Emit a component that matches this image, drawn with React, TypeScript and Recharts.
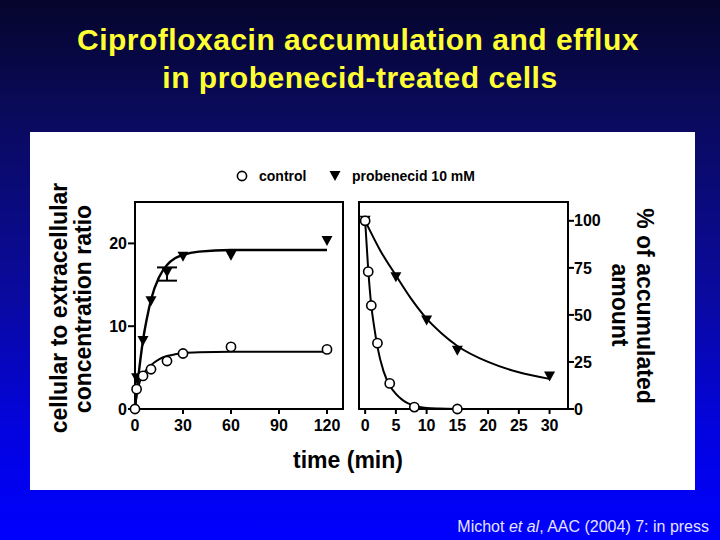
import React from 'react';
import { ComposedChart, Line, Scatter, XAxis, YAxis, ReferenceArea, ErrorBar } from 'recharts';

// --- accumulation panel (left), time in min
const accTimeCtrl = [0, 1, 5, 10, 20, 30, 60, 120];
const accCtrl = [0, 2.4, 4.0, 4.8, 5.8, 6.7, 7.5, 7.2];
const accTimeProb = [1, 5, 10, 20, 30, 60, 120];
const accProb = [3.7, 8.2, 13.0, 16.5, 18.4, 18.5, 20.3];
const accProbSem = [0, 0, 0, 1.0, 0, 0, 0];
// fitted curves
const accFitTime = [0, 1, 2, 3, 5, 7.5, 10, 15, 20, 25, 30, 40, 60, 90, 120];
const accFitCtrl = [0, 1.6, 2.6, 3.3, 4.2, 4.8, 5.3, 6.0, 6.4, 6.6, 6.75, 6.85, 6.9, 6.9, 6.9];
const accFitProb = [0, 2.0, 3.8, 5.4, 8.3, 11.0, 13.2, 15.9, 17.4, 18.2, 18.6, 19.0, 19.2, 19.2, 19.2];

// --- efflux panel (right), % of accumulated amount
const effTimeCtrl = [0, 0.5, 1, 2, 4, 8, 15];
const effCtrl = [100, 73, 55, 35, 13.6, 1, 0];
const effTimeProb = [0, 5, 10, 15, 30];
const effProb = [100, 70, 47, 31, 17.3];
const effFitTimeCtrl = [0, 0.5, 1, 1.5, 2, 3, 4, 5, 6, 7, 8, 10, 12, 15];
const effFitCtrl = [100, 74, 55, 43, 33, 20, 12.5, 8, 5, 3, 1.8, 0.6, 0.2, 0];
const effFitTimeProb = [0, 2.5, 5, 7.5, 10, 12.5, 15, 20, 25, 30];
const effFitProb = [100, 84, 71, 58.5, 48, 40, 33.5, 25, 19.5, 16];

const accXTicks = [0, 30, 60, 90, 120];
const accYTicks = [0, 10, 20];
const effXTicks = [0, 5, 10, 15, 20, 25, 30];
const effYTicks = [0, 25, 50, 75, 100];
const accXDomain = [0, 130];
const accYDomain = [0, 25];
const effXDomain = [-1, 33];
const effYDomain = [0, 110];

// upper arm hidden under the triangle marker, only the lower one shows
const pts = (t: number[], v: number[], sem?: number[]) =>
  t.map((x, i) => ({ t: x, v: v[i], err: sem && sem[i] ? [sem[i], 0.6] : undefined }));
const errPts = (t: number[], v: number[], sem: number[]) =>
  pts(t, v, sem).filter((d) => d.err);

const FONT = "'Liberation Sans', Arial, sans-serif";
const tickStyle = { fontSize: 16, fontWeight: 700, fill: '#000', fontFamily: FONT };
const axisLine = { stroke: '#000', strokeWidth: 2 };

const OpenCircle = (p: any) => (
  <circle cx={p.cx} cy={p.cy} r={4.6} fill="#fff" stroke="#000" strokeWidth={1.6} />
);
const DownTriangle = (p: any) => (
  <path d={`M${p.cx - 5.5},${p.cy - 5}L${p.cx + 5.5},${p.cy - 5}L${p.cx},${p.cy + 5}Z`} fill="#000" />
);
const NoMark = () => <g />;

function AccumulationChart() {
  return (
    <ComposedChart width={260} height={250} margin={{ top: 12, right: 17, bottom: 1, left: 0 }}>
      <XAxis
        type="number"
        dataKey="t"
        domain={accXDomain}
        ticks={accXTicks}
        tick={tickStyle}
        axisLine={axisLine}
        tickLine={axisLine}
        tickSize={5}
        tickMargin={6}
        height={30}
      />
      <YAxis
        type="number"
        dataKey="v"
        domain={accYDomain}
        ticks={accYTicks}
        tick={tickStyle}
        axisLine={axisLine}
        tickLine={axisLine}
        tickSize={7}
        tickMargin={1}
        width={35}
      />
      <ReferenceArea
        x1={accXDomain[0]}
        x2={accXDomain[1]}
        y1={accYDomain[0]}
        y2={accYDomain[1]}
        fill="none"
        stroke="#000"
        strokeWidth={2}
      />
      <Line data={pts(accFitTime, accFitProb)} dataKey="v" type="monotone" dot={false} stroke="#000" strokeWidth={2.4} isAnimationActive={false} />
      <Line data={pts(accFitTime, accFitCtrl)} dataKey="v" type="monotone" dot={false} stroke="#000" strokeWidth={2} isAnimationActive={false} />
      <Scatter data={errPts(accTimeProb, accProb, accProbSem)} dataKey="v" shape={NoMark} isAnimationActive={false}>
        <ErrorBar dataKey="err" direction="y" width={10} stroke="#000" strokeWidth={2} />
      </Scatter>
      <Scatter data={pts(accTimeProb, accProb)} dataKey="v" shape={DownTriangle} isAnimationActive={false} />
      <Scatter data={pts(accTimeCtrl, accCtrl)} dataKey="v" shape={OpenCircle} isAnimationActive={false} />
    </ComposedChart>
  );
}

function EffluxChart() {
  return (
    <ComposedChart width={260} height={250} margin={{ top: 12, right: 7, bottom: 1, left: 4 }}>
      <XAxis
        type="number"
        dataKey="t"
        domain={effXDomain}
        ticks={effXTicks}
        tick={tickStyle}
        axisLine={axisLine}
        tickLine={axisLine}
        tickSize={5}
        tickMargin={6}
        height={30}
      />
      <YAxis
        type="number"
        dataKey="v"
        orientation="right"
        domain={effYDomain}
        ticks={effYTicks}
        tick={tickStyle}
        axisLine={axisLine}
        tickLine={axisLine}
        tickSize={6}
        tickMargin={0}
        width={40}
      />
      <ReferenceArea
        x1={effXDomain[0]}
        x2={effXDomain[1]}
        y1={effYDomain[0]}
        y2={effYDomain[1]}
        fill="none"
        stroke="#000"
        strokeWidth={2}
      />
      <Line data={pts(effFitTimeProb, effFitProb)} dataKey="v" type="monotone" dot={false} stroke="#000" strokeWidth={2} isAnimationActive={false} />
      <Line data={pts(effFitTimeCtrl, effFitCtrl)} dataKey="v" type="monotone" dot={false} stroke="#000" strokeWidth={2} isAnimationActive={false} />
      <Scatter data={pts(effTimeProb, effProb)} dataKey="v" shape={DownTriangle} isAnimationActive={false} />
      <Scatter data={pts(effTimeCtrl, effCtrl)} dataKey="v" shape={OpenCircle} isAnimationActive={false} />
    </ComposedChart>
  );
}

export default function App() {
  return (
    <div
      style={{
        position: 'fixed',
        left: 0,
        top: 0,
        width: 720,
        height: 540,
        overflow: 'hidden',
        fontFamily: FONT,
        background: 'linear-gradient(180deg, #05052c 0%, #0a0a5e 22%, #0a0aa0 55%, #0303e0 80%, #0000ff 100%)',
      }}
    >
      <div style={{ position: 'absolute', left: 30, top: 132, width: 665, height: 358, background: '#fff' }} />
      <div style={{ position: 'absolute', left: 100, top: 190 }}>
        <AccumulationChart />
      </div>
      <div style={{ position: 'absolute', left: 355, top: 190 }}>
        <EffluxChart />
      </div>
      <svg width={720} height={540} style={{ position: 'absolute', left: 0, top: 0, pointerEvents: 'none' }}>
        <g fontFamily={FONT} fontWeight={700} fill="#ffff33" fontSize={30} textAnchor="middle" letterSpacing={0.5}>
          <text x={358} y={50}>Ciprofloxacin accumulation and efflux</text>
          <text x={360} y={88}>in probenecid-treated cells</text>
        </g>

        {/* legend */}
        <circle cx={242} cy={176} r={4.6} fill="#fff" stroke="#000" strokeWidth={1.6} />
        <text x={259} y={181} fontFamily={FONT} fontWeight={700} fontSize={14} fill="#000">control</text>
        <path d="M329.5,171L340.5,171L335,181Z" fill="#000" />
        <text x={352} y={181} fontFamily={FONT} fontWeight={700} fontSize={14} fill="#000">probenecid 10 mM</text>

        <g fontFamily={FONT} fontWeight={700} fontSize={23} fill="#000" textAnchor="middle">
          <text transform="translate(59,308) rotate(-90)" dominantBaseline="central">cellular to extracellular</text>
          <text transform="translate(83,309) rotate(-90)" dominantBaseline="central">concentration ratio</text>
          <text transform="translate(645,306) rotate(90)" dominantBaseline="central">% of accumulated</text>
          <text transform="translate(620,305) rotate(90)" dominantBaseline="central">amount</text>
          <text x={348} y={468}>time (min)</text>
        </g>

        <text x={709} y={532} textAnchor="end" fontFamily={FONT} fontSize={16} fill="#e4e4ff">
          Michot <tspan fontStyle="italic">et al</tspan>, AAC (2004) 7: in press
        </text>
      </svg>
    </div>
  );
}
